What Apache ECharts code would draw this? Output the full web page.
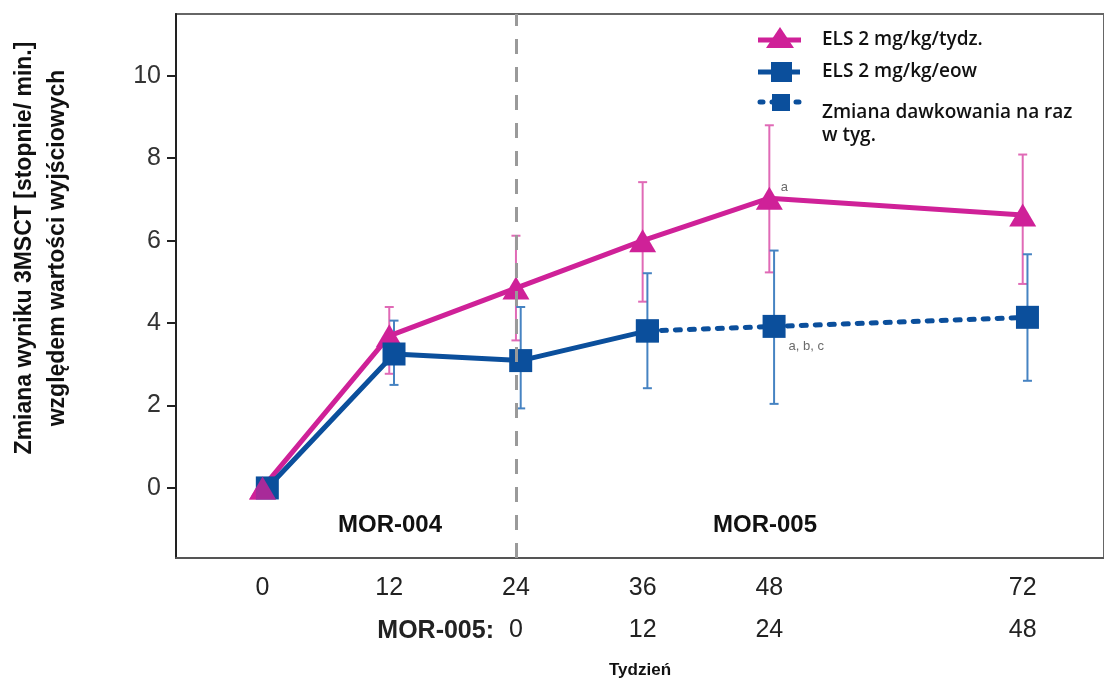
<!DOCTYPE html>
<html>
<head>
<meta charset="utf-8">
<script src="https://cdn.jsdelivr.net/npm/echarts@6/dist/echarts.min.js"></script>
<style>
  html, body { margin: 0; padding: 0; background: #fff; }
  #chart { width: 1104px; height: 683px; }
</style>
</head>
<body>
<div id="chart"></div>
<script>
// Study weeks (MOR-004 timeline) and the matching MOR-005 weeks
const weeks = [0, 12, 24, 36, 48, 72];
const mor005Weeks = ['', '', '0', '12', '24', '48'];
const yTicks = [0, 2, 4, 6, 8, 10];

// ELS 2 mg/kg weekly: mean change from baseline and error bar limits
const weeklyMean = [0, 3.69, 4.85, 6.0, 7.03, 6.62];
const weeklyLow  = [null, 2.77, 3.58, 4.52, 5.23, 4.95];
const weeklyHigh = [null, 4.39, 6.12, 7.42, 8.8, 8.09];
const weeklyNotes = ['', '', '', '', 'a', ''];

// ELS 2 mg/kg every other week (switched to weekly from week 36)
const eowMean = [0, 3.25, 3.09, 3.81, 3.92, 4.14];
const eowLow  = [null, 2.5, 1.93, 2.42, 2.04, 2.6];
const eowHigh = [null, 4.06, 4.39, 5.21, 5.76, 5.67];
const eowNotes = ['', '', '', '', 'a, b, c', ''];
const switchIndex = 3;

const seriesNames = ['ELS 2 mg/kg/tydz.', 'ELS 2 mg/kg/eow', 'Zmiana dawkowania na raz\nw tyg.'];

const PINK = '#cf2198';
const PINK_BAR = '#e06ab6';
const BLUE = '#0b4f9c';
const BLUE_BAR = '#4683c2';
const EOW_SHIFT = 0.45; // small horizontal dodge so the two arms do not overlap

function errorBars(xs, lows, highs, color, shift) {
  const data = xs.map((x, i) => [x + shift, lows[i], highs[i]]).filter(d => d[1] != null);
  return {
    type: 'custom',
    data: data,
    z: 1,
    silent: true,
    encode: { x: 0, y: [1, 2] },
    renderItem: function (params, api) {
      const x = api.value(0);
      const lo = api.coord([x, api.value(1)]);
      const hi = api.coord([x, api.value(2)]);
      const c = 4.5;
      const st = { stroke: color, lineWidth: 2 };
      return {
        type: 'group',
        children: [
          { type: 'line', shape: { x1: lo[0], y1: lo[1], x2: hi[0], y2: hi[1] }, style: st },
          { type: 'line', shape: { x1: lo[0] - c, y1: lo[1], x2: lo[0] + c, y2: lo[1] }, style: st },
          { type: 'line', shape: { x1: hi[0] - c, y1: hi[1], x2: hi[0] + c, y2: hi[1] }, style: st }
        ]
      };
    }
  };
}

function points(xs, ys, notes, shift, labelPos) {
  return xs.map((x, i) => {
    const item = { value: [x + shift, ys[i]] };
    if (notes && notes[i]) {
      item.label = {
        show: true,
        formatter: notes[i],
        position: labelPos,
        fontFamily: 'Liberation Sans, Arial, sans-serif',
        fontSize: 13,
        color: '#6b6b6b',
        align: 'left',
        verticalAlign: 'top'
      };
    }
    return item;
  });
}

const chart = echarts.init(document.getElementById('chart'), null, { renderer: 'canvas' });

const FONT = 'Liberation Sans, Arial, sans-serif';
const tickFont = { fontFamily: FONT, fontSize: 25, color: '#222' };
const legendFont = { fontFamily: 'Open Sans, sans-serif', fontSize: 19, fontWeight: 600, fill: '#111' };

const option = {
  animation: false,
  backgroundColor: '#fff',
  grid: {
    left: 176, right: -3, top: 14, bottom: 125,
    show: true, borderColor: '#666', borderWidth: 2, backgroundColor: 'transparent'
  },
  xAxis: [
    {
      type: 'value', min: -8.2, max: 79.7, position: 'bottom',
      axisLine: { show: true, onZero: false, lineStyle: { color: '#555', width: 2 } },
      axisTick: { show: false },
      splitLine: { show: false },
      axisLabel: Object.assign({ margin: 18, customValues: weeks, formatter: v => String(v) }, tickFont)
    },
    {
      type: 'value', min: -8.2, max: 79.7, position: 'bottom', offset: 42,
      axisLine: { show: false },
      axisTick: { show: false },
      splitLine: { show: false },
      axisLabel: Object.assign({
        margin: 18,
        customValues: weeks.filter((w, i) => mor005Weeks[i] !== ''),
        formatter: v => mor005Weeks[weeks.indexOf(v)]
      }, tickFont)
    }
  ],
  yAxis: {
    type: 'value', min: -1.7, max: 11.5,
    axisLine: { show: true, onZero: false, lineStyle: { color: '#222', width: 2 } },
    axisTick: { show: true, length: 9, customValues: yTicks, lineStyle: { color: '#222', width: 2 } },
    splitLine: { show: false },
    axisLabel: Object.assign({ margin: 15, customValues: yTicks }, tickFont, { color: '#333' })
  },
  series: [
    errorBars(weeks, weeklyLow, weeklyHigh, PINK_BAR, 0),
    errorBars(weeks, eowLow, eowHigh, BLUE_BAR, EOW_SHIFT),
    {
      name: seriesNames[0],
      type: 'line',
      z: 3,
      data: points(weeks, weeklyMean, weeklyNotes, 0, [25, -6]),
      symbol: 'triangle',
      symbolSize: [27, 23],
      lineStyle: { color: PINK, width: 5 },
      itemStyle: { color: PINK },
      markLine: {
        silent: true,
        symbol: 'none',
        label: { show: false },
        lineStyle: { color: '#9a9a9a', width: 3, type: [15, 13] },
        data: [{ xAxis: 24 }]
      }
    },
    {
      name: seriesNames[1],
      type: 'line',
      z: 4,
      data: points(weeks.slice(0, switchIndex + 1), eowMean.slice(0, switchIndex + 1), null, EOW_SHIFT),
      symbol: 'rect',
      symbolSize: 23,
      lineStyle: { color: BLUE, width: 5 },
      itemStyle: { color: BLUE }
    },
    {
      name: seriesNames[2],
      type: 'line',
      z: 4,
      data: points(weeks.slice(switchIndex), eowMean.slice(switchIndex), eowNotes.slice(switchIndex), EOW_SHIFT, [26, 25]),
      symbol: 'rect',
      symbolSize: 23,
      lineStyle: { color: BLUE, width: 5, type: [5, 9], cap: 'round' },
      itemStyle: { color: BLUE }
    },
    {
      // baseline point of the weekly arm drawn above the eow square
      type: 'scatter',
      z: 5,
      silent: true,
      data: [[weeks[0], weeklyMean[0]]],
      symbol: 'triangle',
      symbolSize: [27, 23],
      itemStyle: { color: PINK }
    }
  ],
  graphic: [
    // vertical axis title
    {
      type: 'text', x: 41, y: 248, rotation: Math.PI / 2,
      style: {
        text: 'Zmiana wyniku 3MSCT [stopnie/ min.]\nwzględem wartości wyjściowych',
        fontFamily: FONT, fontWeight: 'bold', fontSize: 23,
        lineHeight: 33, fill: '#111', align: 'center', verticalAlign: 'middle'
      }
    },
    // study phase labels
    {
      type: 'text', x: 390, y: 525,
      style: { text: 'MOR-004', fontFamily: FONT, fontWeight: 'bold', fontSize: 24, fill: '#111', align: 'center', verticalAlign: 'middle' }
    },
    {
      type: 'text', x: 765, y: 525,
      style: { text: 'MOR-005', fontFamily: FONT, fontWeight: 'bold', fontSize: 24, fill: '#111', align: 'center', verticalAlign: 'middle' }
    },
    {
      type: 'text', x: 494, y: 631,
      style: { text: 'MOR-005:', fontFamily: FONT, fontWeight: 'bold', fontSize: 25, fill: '#222', align: 'right', verticalAlign: 'middle' }
    },
    {
      type: 'text', x: 640, y: 670,
      style: { text: 'Tydzień', fontFamily: FONT, fontWeight: 'bold', fontSize: 17, fill: '#111', align: 'center', verticalAlign: 'middle' }
    },
    // legend
    { type: 'line', shape: { x1: 758, y1: 40, x2: 801, y2: 40 }, style: { stroke: PINK, lineWidth: 5 } },
    { type: 'polygon', shape: { points: [[780, 27], [794, 48], [766, 48]] }, style: { fill: PINK } },
    { type: 'text', x: 822, y: 40, style: Object.assign({ text: seriesNames[0], verticalAlign: 'middle' }, legendFont) },
    { type: 'line', shape: { x1: 758, y1: 72, x2: 800, y2: 72 }, style: { stroke: BLUE, lineWidth: 5 } },
    { type: 'rect', shape: { x: 771, y: 62, width: 21, height: 20 }, style: { fill: BLUE } },
    { type: 'text', x: 822, y: 72, style: Object.assign({ text: seriesNames[1], verticalAlign: 'middle' }, legendFont) },
    { type: 'line', shape: { x1: 760, y1: 102, x2: 800, y2: 102 }, style: { stroke: BLUE, lineWidth: 5, lineDash: [3, 9], lineCap: 'round' } },
    { type: 'rect', shape: { x: 772, y: 94, width: 18, height: 17 }, style: { fill: BLUE } },
    { type: 'text', x: 822, y: 124, style: Object.assign({ text: seriesNames[2], lineHeight: 23, verticalAlign: 'middle' }, legendFont) }
  ]
};

chart.setOption(option);
</script>
</body>
</html>
